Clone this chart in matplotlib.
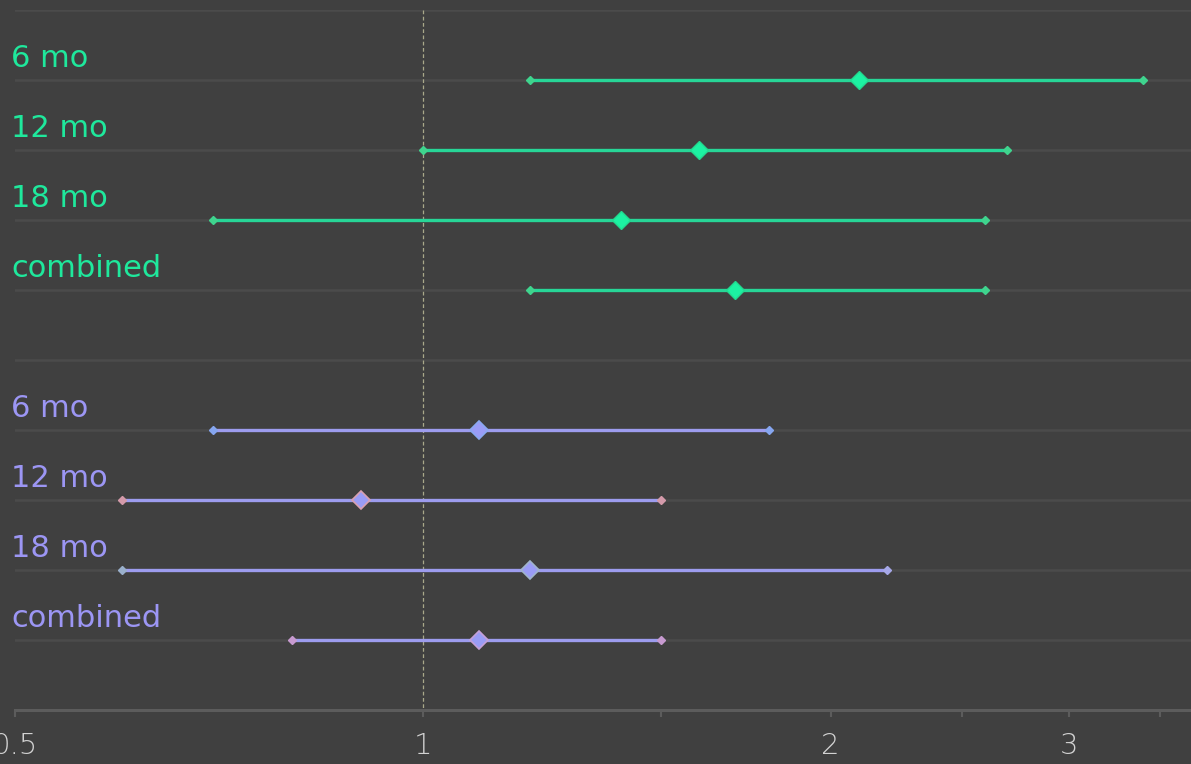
import numpy as np
import matplotlib.pyplot as plt
from matplotlib.ticker import FixedLocator, NullFormatter
import matplotlib.transforms as mtransforms

# ---------------- data ----------------
labels = ["6 mo", "12 mo", "18 mo", "combined"]

green_est = [2.1, 1.6, 1.4, 1.7]
green_lo = [1.2, 1.0, 0.7, 1.2]
green_hi = [3.4, 2.7, 2.6, 2.6]

purple_est = [1.1, 0.9, 1.2, 1.1]
purple_lo = [0.7, 0.6, 0.6, 0.8]
purple_hi = [1.8, 1.5, 2.2, 1.5]

major_ticks = [0.5, 1, 2, 3]
major_labels = ["0.5", "1", "2", "3"]
minor_ticks = [1.5, 2.5, 3.5]

# ---------------- style ----------------
BG = "#404040"
GRID = "#4b4b4b"
AXIS = "#5c5c5c"
GREEN_TXT = "#1fe89c"
GREEN_LINE = "#27d697"
GREEN_MK = "#1cf2a2"
PURPLE_TXT = "#9c96f4"
PURPLE_LINE = "#9d9cee"
PURPLE_MK = "#9a9cf6"

# end marker tints (left, right) per purple row
purple_end_cols = [("#86a6f0", "#86a6f0"), ("#d49aaa", "#d49aaa"),
                   ("#9ab0cc", "#a6a8e8"), ("#c79ad0", "#c79ad0")]
purple_mid_edge = ["#8aa8f0", "#d9a0b0", "#a0b4cc", "#c4a0d8"]

W, H = 1191, 764
fig = plt.figure(figsize=(W / 100, H / 100), dpi=100, facecolor=BG)
ax = fig.add_axes([15 / W, (H - 710) / H, (W - 15) / W, 700 / H])
ax.set_facecolor(BG)

ax.set_xscale("log")
ax.set_xlim(0.5, 3.69)
ax.set_ylim(10, 0)

# horizontal row lines
for yy in range(10):
    ax.axhline(yy, color=GRID, lw=1.8, zorder=0)

# reference line at 1
ax.plot([1, 1], [0, 10], color="#a9a88a", lw=0.9, ls=(0, (3, 2)), zorder=1)

green_rows = [1, 2, 3, 4]
purple_rows = [6, 7, 8, 9]

for y, e, lo, hi in zip(green_rows, green_est, green_lo, green_hi):
    ax.plot([lo, hi], [y, y], color=GREEN_LINE, lw=2.4, solid_capstyle="butt", zorder=2)
    ax.plot([lo, hi], [y, y], ls="none", marker="D", ms=4, color="#3fd48e",
            mec="#3fd48e", zorder=3)
    ax.plot([e], [y], ls="none", marker="D", ms=9, color=GREEN_MK,
            mec="#22d98f", mew=1, zorder=4)

for i, (y, e, lo, hi) in enumerate(zip(purple_rows, purple_est, purple_lo, purple_hi)):
    ax.plot([lo, hi], [y, y], color=PURPLE_LINE, lw=2.4, solid_capstyle="butt", zorder=2)
    cl, cr = purple_end_cols[i]
    ax.plot([lo], [y], ls="none", marker="D", ms=4, color=cl, mec=cl, zorder=3)
    ax.plot([hi], [y], ls="none", marker="D", ms=4, color=cr, mec=cr, zorder=3)
    ax.plot([e], [y], ls="none", marker="D", ms=9, color=PURPLE_MK,
            mec=purple_mid_edge[i], mew=1.2, zorder=4)

# row labels, drawn left-aligned just above each row
trans = mtransforms.blended_transform_factory(fig.transFigure, ax.transData)
for rows, col in ((green_rows, GREEN_TXT), (purple_rows, PURPLE_TXT)):
    for y, lab in zip(rows, labels):
        ax.text(11 / W, y - 0.31, lab, transform=trans, color=col,
                fontsize=22, ha="left", va="center", family="DejaVu Sans",
                clip_on=False)

# axes frame
for s in ("top", "right", "left"):
    ax.spines[s].set_visible(False)
ax.spines["bottom"].set_color(AXIS)
ax.spines["bottom"].set_linewidth(2.2)
ax.set_yticks([])

ax.xaxis.set_major_locator(FixedLocator(major_ticks))
ax.set_xticklabels(major_labels)
ax.xaxis.set_minor_locator(FixedLocator(minor_ticks))
ax.xaxis.set_minor_formatter(NullFormatter())
ax.tick_params(axis="x", which="both", direction="out", length=5, width=1.5,
               color=AXIS, labelcolor="#d2d2d2", labelsize=21, pad=11)
for t in ax.get_xticklabels():
    t.set_fontweight("light")

fig.savefig("out.png", dpi=100, facecolor=BG)
